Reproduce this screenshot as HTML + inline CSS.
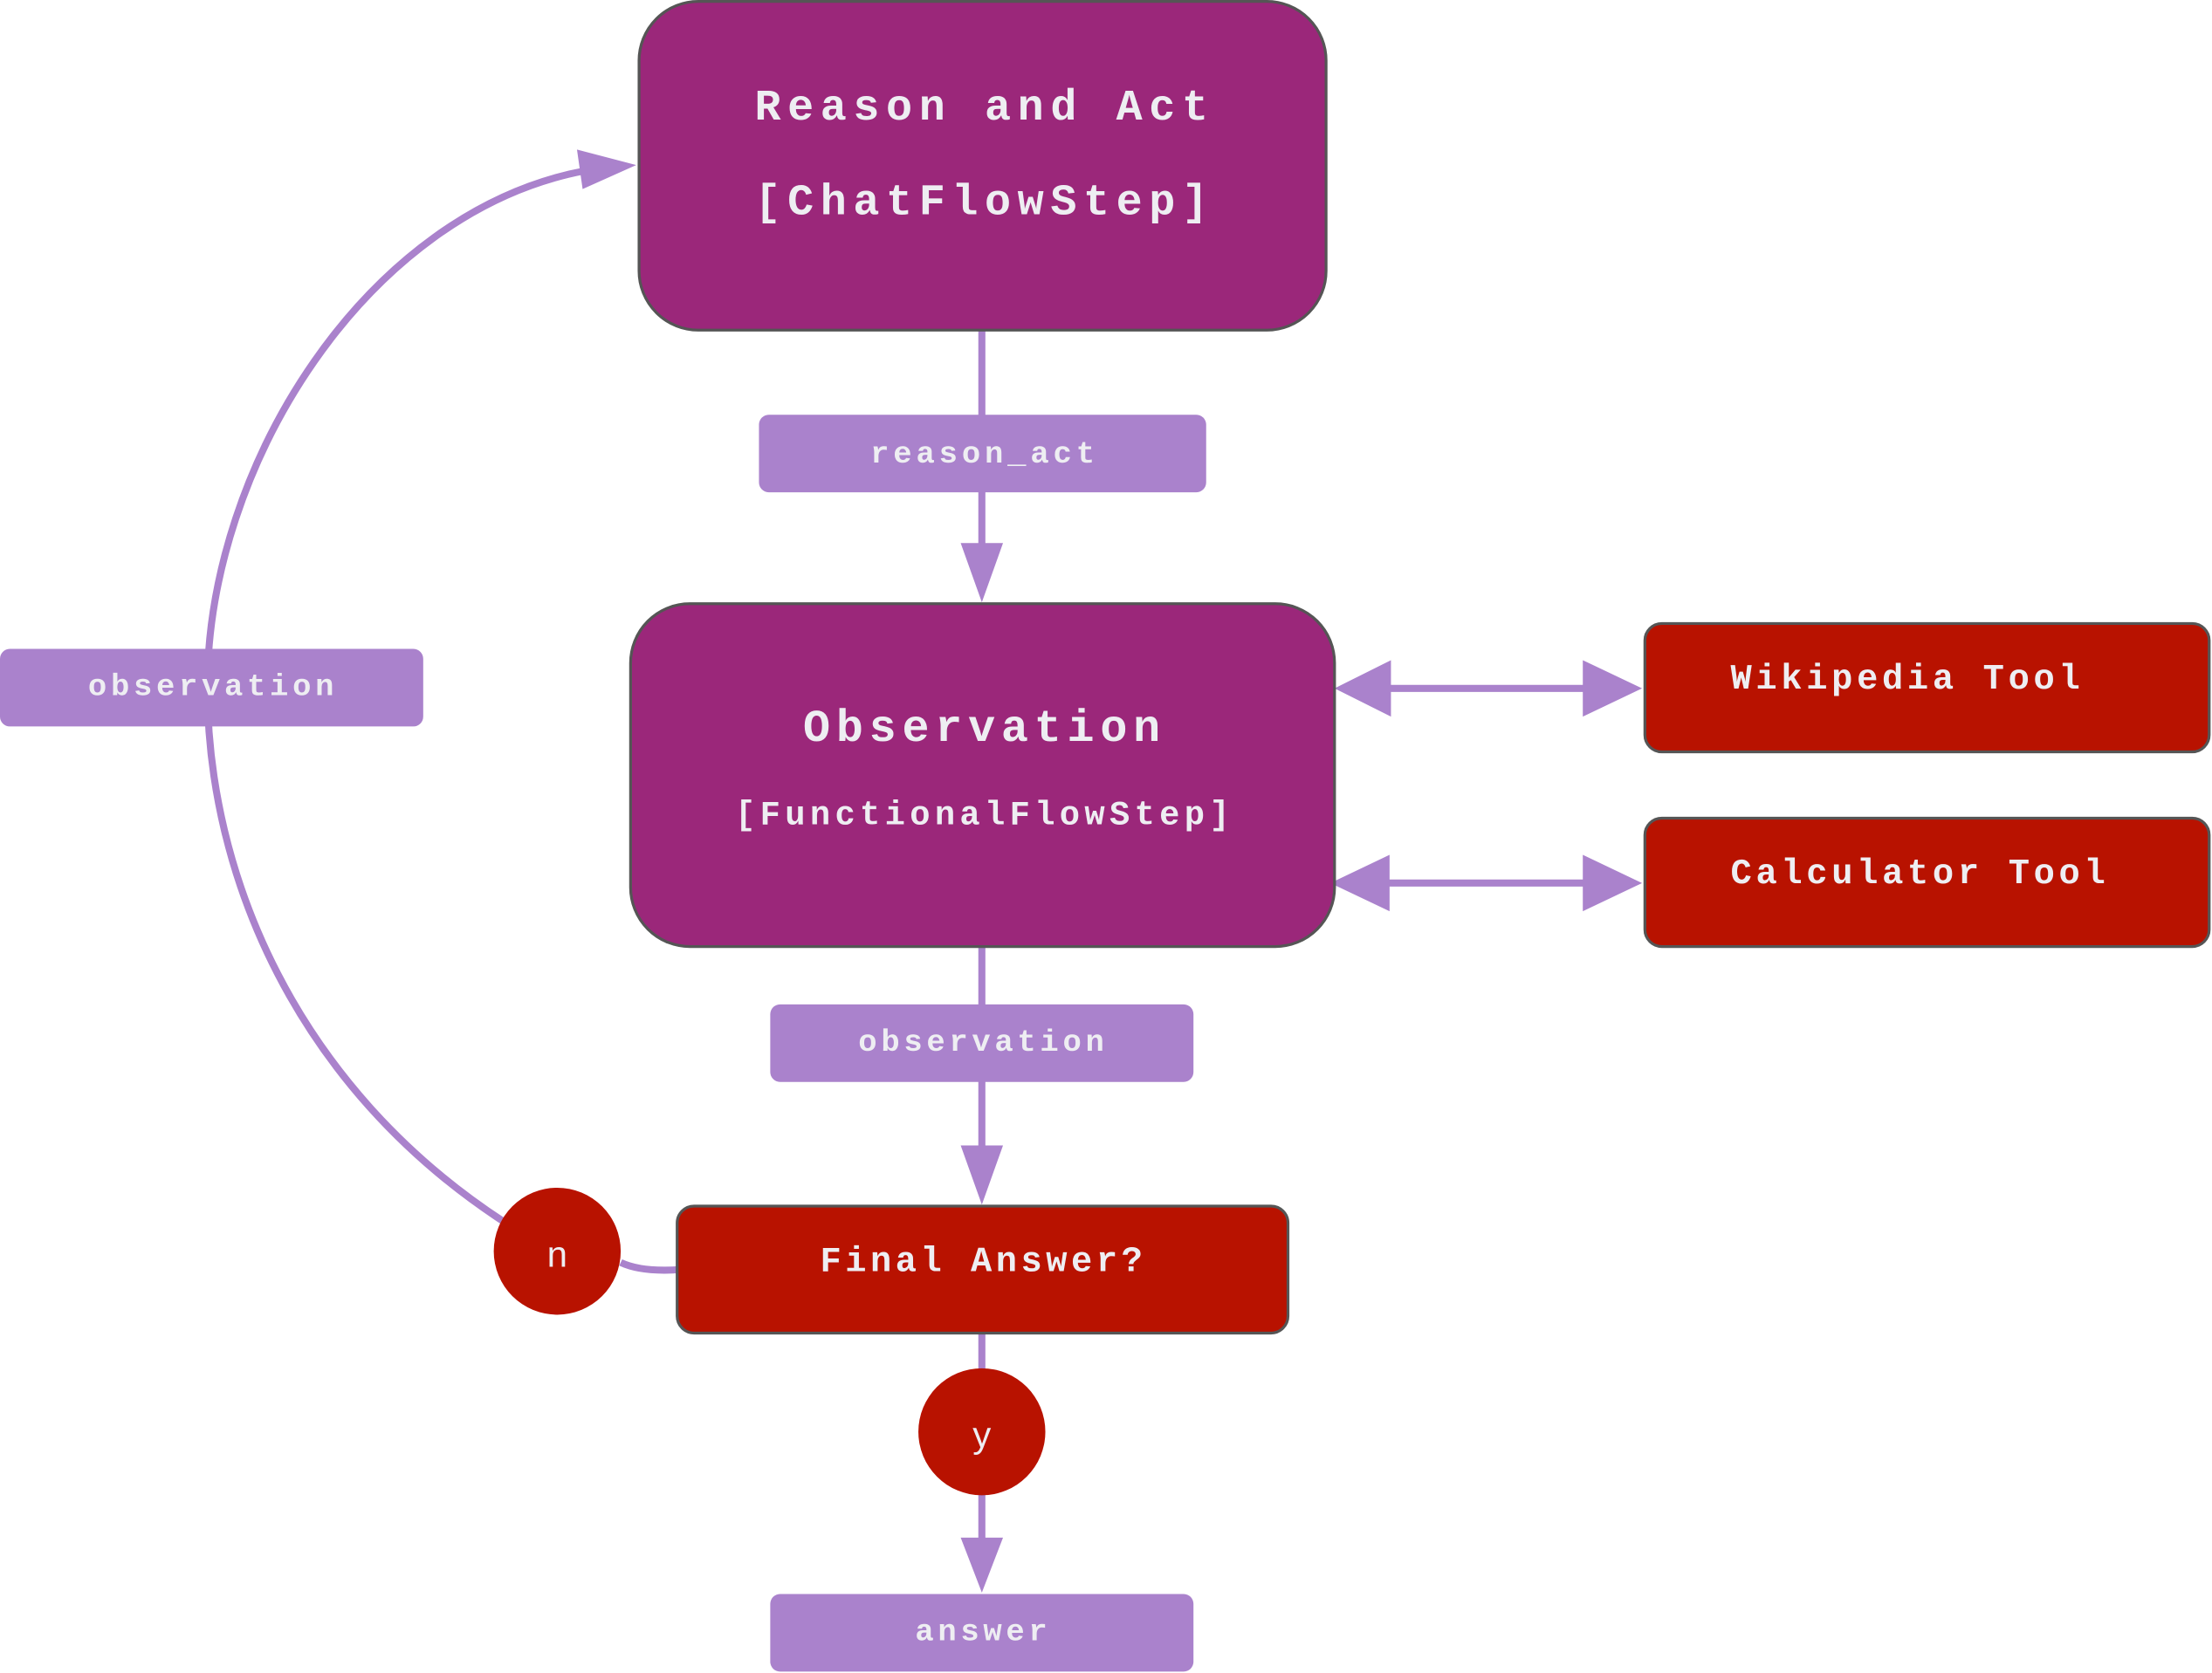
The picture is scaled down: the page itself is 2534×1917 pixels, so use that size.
<!DOCTYPE html>
<html><head><meta charset="utf-8"><style>
html,body{margin:0;padding:0;background:#fff;}
svg{display:block;}
text{font-family:"Liberation Mono","Courier New",monospace;font-weight:bold;fill:#eeeef2;text-anchor:middle;dominant-baseline:central;}
</style></head><body>
<svg width="2534" height="1917" viewBox="0 0 1568 1186" preserveAspectRatio="none">
<g stroke="#aa82cc" stroke-width="5" fill="none">
<line x1="696" y1="234" x2="696" y2="390"/>
<line x1="696" y1="671" x2="696" y2="816"/>
<line x1="696" y1="945" x2="696" y2="1094"/>
<line x1="980" y1="488" x2="1128" y2="488"/>
<line x1="980" y1="626" x2="1128" y2="626"/>
<path d="M440,895 Q455,902 482,900"/>
<path d="M357,866 C210,770 147,620 147,487 C147,330 260,150 415,121"/>
</g>
<g fill="#aa82cc">
<polygon points="681,385 711,385 696,427"/>
<polygon points="681,812 711,812 696,854"/>
<polygon points="681,1090 711,1090 696,1129"/>
<polygon points="946,488 986,468 986,508"/>
<polygon points="1164,488 1122,468 1122,508"/>
<polygon points="943,626 985,606 985,646"/>
<polygon points="1164,626 1122,606 1122,646"/>
<polygon points="451,117 409,106 413,134"/>
</g>
<rect x="453" y="1" width="487" height="233" rx="42" fill="#9b277a" stroke="#555" stroke-width="2"/>
<text x="698" y="77" font-size="31" letter-spacing="4.7">Reason and Act</text>
<text x="698" y="144" font-size="31" letter-spacing="4.7">[ChatFlowStep]</text>
<rect x="538" y="294" width="317" height="55" rx="7" fill="#aa82cc"/>
<text x="698" y="322" font-size="22" letter-spacing="3">reason_act</text>
<rect x="447" y="428" width="499" height="243" rx="42" fill="#9b277a" stroke="#555" stroke-width="2"/>
<text x="698" y="517" font-size="32" letter-spacing="4.2">Observation</text>
<text x="698" y="578" font-size="24" letter-spacing="3.3">[FunctionalFlowStep]</text>
<rect x="1166" y="442" width="400" height="91" rx="12" fill="#b81200" stroke="#555" stroke-width="2"/>
<text x="1352" y="482" font-size="25" letter-spacing="2.9">Wikipedia Tool</text>
<rect x="1166" y="580" width="400" height="91" rx="12" fill="#b81200" stroke="#555" stroke-width="2"/>
<text x="1361" y="620" font-size="25" letter-spacing="2.9">Calculator Tool</text>
<rect x="0" y="460" width="300" height="55" rx="7" fill="#aa82cc"/>
<text x="151" y="487" font-size="22" letter-spacing="2.9">observation</text>
<rect x="546" y="712" width="300" height="55" rx="7" fill="#aa82cc"/>
<text x="697" y="739" font-size="22" letter-spacing="2.9">observation</text>
<rect x="480" y="855" width="433" height="90" rx="12" fill="#b81200" stroke="#555" stroke-width="2"/>
<text x="697" y="895" font-size="25" letter-spacing="2.8">Final Answer?</text>
<circle cx="395" cy="887" r="45" fill="#b81200"/>
<text x="395" y="889" font-size="26" style="font-family:'Liberation Sans',sans-serif;font-weight:normal">n</text>
<circle cx="696" cy="1015" r="45" fill="#b81200"/>
<text x="696" y="1017" font-size="26" style="font-family:'Liberation Sans',sans-serif;font-weight:normal">y</text>
<rect x="546" y="1130" width="300" height="55" rx="7" fill="#aa82cc"/>
<text x="697" y="1157" font-size="22" letter-spacing="2.9">answer</text>
</svg>
</body></html>
